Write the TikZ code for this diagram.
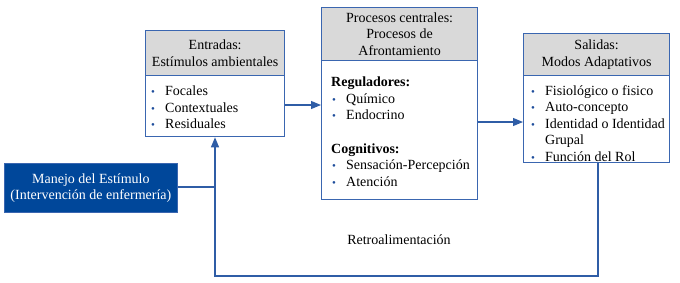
\documentclass[tikz,border=0pt]{standalone}
\usepackage{fontspec}
\setmainfont{Liberation Serif}
\newfontfamily\tnr{Liberation Serif}
\usetikzlibrary{arrows.meta}
\definecolor{edge}{HTML}{3A66B0}
\definecolor{wire}{HTML}{2F5DA6}
\definecolor{head}{HTML}{D9D9D9}
\definecolor{dark}{HTML}{00479A}
\definecolor{dot}{HTML}{1F4E9C}
\newcommand{\bul}{\makebox[15pt][l]{\hspace{1pt}\textcolor{dot}{\fontsize{11}{11}\selectfont •}}}
\tikzset{
  boxhead/.style={draw=edge, line width=1.3pt, fill=head, anchor=north west, align=center, inner sep=0pt},
  boxbody/.style={draw=edge, line width=1.3pt, fill=white, anchor=north west, inner sep=0pt},
  bodytext/.style={anchor=north west, align=left, inner sep=0pt},
  wireline/.style={draw=wire, line width=1.1pt},
  tip/.style={-{Triangle[length=10pt,width=8pt]}},
}
\begin{document}
\begin{tikzpicture}[x=1pt,y=-1pt, font=\tnr\fontsize{14}{16.5}\selectfont]
\useasboundingbox (0,0) rectangle (680,282);
% Entradas
\node[boxhead, minimum width=139, minimum height=45] (h1) at (145,30) {Entradas:\\Estímulos ambientales};
\node[boxbody, minimum width=139, minimum height=61] (b1) at (145,75) {};
\node[bodytext] (t1) at (150,86) {\bul Focales\\ \bul Contextuales\\ \bul Residuales};
% Procesos
\node[boxhead, minimum width=156, minimum height=53] (h2) at (321,7) {Procesos centrales:\\Procesos de\\Afrontamiento};
\node[boxbody, minimum width=156, minimum height=139] (b2) at (321,60) {};
\node[bodytext] (t2) at (331,77) {\textbf{Reguladores:}\\ \bul Químico\\ \bul Endocrino\\[17pt] \textbf{Cognitivos:}\\ \bul Sensación-Percepción\\ \bul Atención};
% Salidas
\node[boxhead, minimum width=146, minimum height=42] (h3) at (523,33) {Salidas:\\Modos Adaptativos};
\node[boxbody, minimum width=146, minimum height=87] (b3) at (523,75) {};
\node[bodytext] (t3) at (530,85) {\bul Fisiológico o fisico\\ \bul Auto-concepto\\ \bul Identidad o Identidad\\ \hspace*{15pt}Grupal\\ \bul Función del Rol};
% Manejo
\node[fill=dark, draw=edge, line width=0.8pt, anchor=north west, minimum width=173, minimum height=49, inner sep=0pt, align=center, text=white] (m) at (4,163) {Manejo del Estímulo\\(Intervención de enfermería)};
% connectors
\coordinate (c1) at (598,276);
\coordinate (c2) at (215,276);
\coordinate (c3) at (215,187);
\draw[wireline, tip] (b1.east |- 0,105) -- (b2.west |- 0,105);
\draw[wireline, tip] (b2.east |- 0,122) -- (b3.west |- 0,122);
\draw[wireline, tip] (b3.south -| c1) -- (c1) -- (c2) -- (b1.south -| c2);
\draw[wireline] (m.east |- c3) -- (c3);
\node[inner sep=0pt] (fb) at (399,240) {Retroalimentación};
\end{tikzpicture}
\end{document}
